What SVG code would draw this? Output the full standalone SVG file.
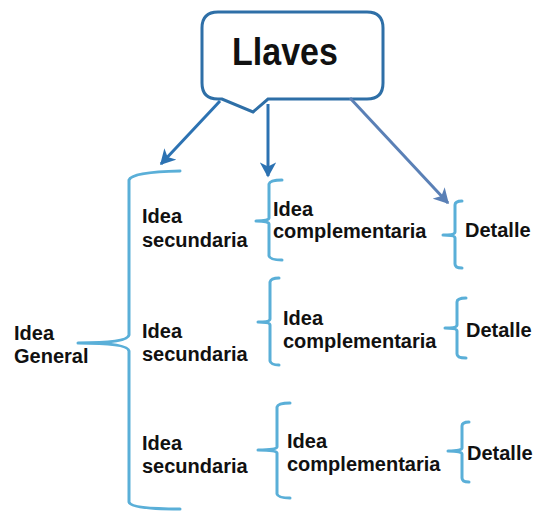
<svg xmlns="http://www.w3.org/2000/svg" width="533" height="514" viewBox="0 0 533 514">
<defs>
<style>
.t{font-family:"Liberation Sans",Arial,sans-serif;font-weight:bold;font-size:20px;fill:#111}
.br{fill:none;stroke:#5aafd8;stroke-width:3;stroke-linecap:round;stroke-linejoin:round}
.ar{fill:none;stroke:#2c72b2;stroke-width:3}
</style>
<marker id="ah" viewBox="0 0 12 12" refX="10" refY="6" markerWidth="5.5" markerHeight="5.5" orient="auto" markerUnits="strokeWidth">
<path d="M0,0 L11,6 L0,12 L3,6 Z" fill="#2c72b2"/>
</marker>
<marker id="ah2" viewBox="0 0 12 12" refX="10" refY="6" markerWidth="5.5" markerHeight="5.5" orient="auto" markerUnits="strokeWidth">
<path d="M0,0 L11,6 L0,12 L3,6 Z" fill="#5a80b6"/>
</marker>
</defs>
<rect width="533" height="514" fill="#fff"/>
<g id="llaves">
<path d="M218,12 H367 Q383,12 383,28 V83 Q383,99 367,99 H268 L253,112 L222,99 H218 Q202,99 202,83 V28 Q202,12 218,12 Z" fill="#fff" stroke="#2e6fa7" stroke-width="3"/>
<text class="t" transform="translate(285,65) scale(1,1.15)" text-anchor="middle" style="font-size:34px">Llaves</text>
</g>
<g id="connectors">
<line class="ar" x1="220" y1="101" x2="161" y2="164" marker-end="url(#ah)"/>
<line class="ar" x1="268" y1="104" x2="268" y2="176" marker-end="url(#ah)"/>
<line class="ar" x1="350" y1="98" x2="448" y2="203" style="stroke:#5a80b6" marker-end="url(#ah2)"/>
</g>
<g id="idea-general">
<path class="br" d="M180,171 Q132,172 129,180 V335 Q128,343 78,343 Q128,343 129,351 V502 Q130,509 180,509"/>
<text class="t" x="14" y="340">Idea</text>
<text class="t" x="14" y="363">General</text>
</g>
<g id="secundaria-1">
<text class="t" x="142" y="223">Idea</text>
<text class="t" x="142" y="247">secundaria</text>
</g>
<g id="secundaria-2">
<text class="t" x="142" y="338">Idea</text>
<text class="t" x="142" y="361">secundaria</text>
</g>
<g id="secundaria-3">
<text class="t" x="142" y="450">Idea</text>
<text class="t" x="142" y="473">secundaria</text>
</g>
<g id="complementaria-1">
<path class="br" d="M282,180 Q270,180 269,184 V218 Q269,221 256,221 Q269,221 269,224 V256 Q270,260 282,260"/>
<text class="t" x="273" y="216">Idea</text>
<text class="t" x="273" y="238">complementaria</text>
</g>
<g id="complementaria-2">
<path class="br" d="M279,278 Q271,278 270,282 V319 Q270,322 258,322 Q270,322 270,325 V361 Q271,365 279,365"/>
<text class="t" x="283" y="325">Idea</text>
<text class="t" x="283" y="348">complementaria</text>
</g>
<g id="complementaria-3">
<path class="br" d="M290,403 Q278,403 277,407 V447 Q277,450 258,450 Q277,450 277,453 V494 Q278,498 290,498"/>
<text class="t" x="287" y="448">Idea</text>
<text class="t" x="287" y="471">complementaria</text>
</g>
<g id="detalle-1">
<path class="br" d="M462,201 Q455,201 455,205 V232 Q455,235 443,235 Q455,235 455,238 V264 Q455,268 462,268"/>
<text class="t" x="465" y="237">Detalle</text>
</g>
<g id="detalle-2">
<path class="br" d="M466,298 Q457,298 457,302 V325 Q457,328 445,328 Q457,328 457,331 V354 Q457,358 466,358"/>
<text class="t" x="466" y="337">Detalle</text>
</g>
<g id="detalle-3">
<path class="br" d="M469,422 Q462,422 462,426 V448 Q462,451 448,451 Q462,451 462,454 V478 Q462,482 469,482"/>
<text class="t" x="467" y="460">Detalle</text>
</g>
</svg>
